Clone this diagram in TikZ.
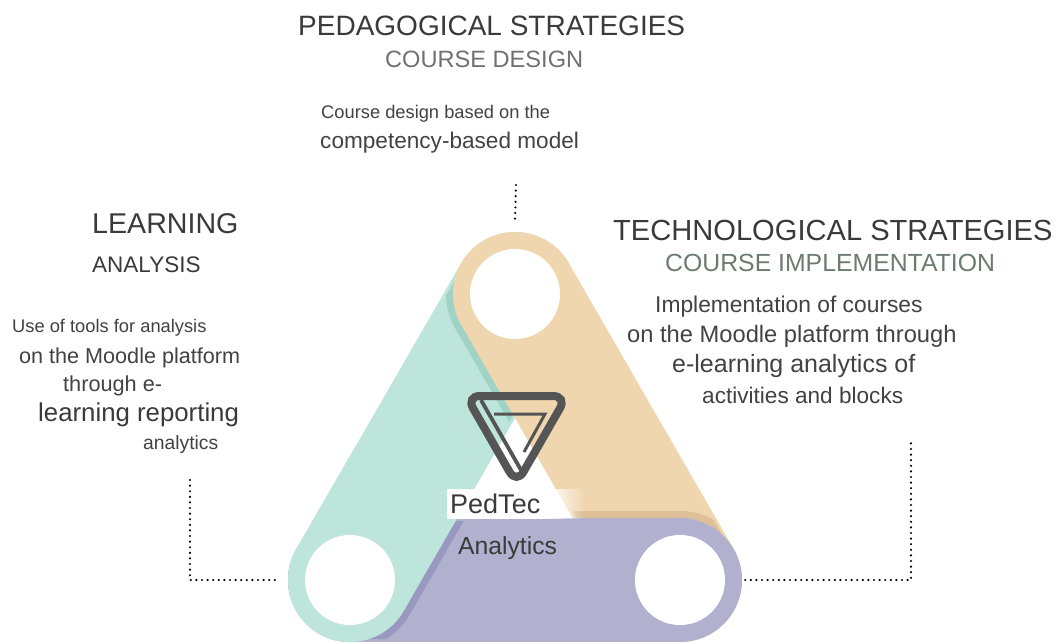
\documentclass[tikz,border=0pt]{standalone}
\usepackage{fontspec}
\setmainfont{Liberation Sans}
\usetikzlibrary{calc,positioning,fadings}
\usepackage{xcolor}

\definecolor{tealband}{RGB}{190,229,219}
\definecolor{tealshade}{RGB}{160,211,197}
\definecolor{peachband}{RGB}{240,214,174}
\definecolor{peachshade}{RGB}{221,192,152}
\definecolor{lilacband}{RGB}{177,177,207}
\definecolor{lilacshade}{RGB}{152,152,192}
\definecolor{logogray}{RGB}{85,85,85}
\definecolor{headgray}{RGB}{58,58,58}
\definecolor{subgray}{RGB}{112,112,112}
\definecolor{implgreen}{RGB}{108,124,110}
\definecolor{textgray}{RGB}{66,66,66}

\tikzfading[name=fadeout, left color=transparent!0, right color=transparent!100]

\newcommand{\fsz}[1]{\fontsize{#1}{#1}\selectfont}

\begin{document}
\begin{tikzpicture}[x=1pt, y=-1pt,
		band/.style = {line width=124pt, line cap=round},
		halo/.style = {line width=138pt, line cap=round},
		hole/.style = {circle, fill=white, minimum size=90pt, inner sep=0pt},
		dots/.style = {line width=2.4pt, line cap=round, dash pattern=on 0pt off 5.6pt},
		txt/.style = {anchor=base west, inner sep=0pt, text=textgray},
		leftside/.style = {shift={(350,580)}, rotate=60},
		rightside/.style = {shift={(515,294)}, rotate=-60},
		baseside/.style = {shift={(350,580)}}]
		\useasboundingbox (0,0) rectangle (1060,643);
		\fill[white] (0,0) rectangle (1060,643);
		\coordinate (pT) at (515,294);
		\coordinate (pL) at (350,580);
		\coordinate (pR) at (680,580);
		% bands, each one lying over the next
		\draw[band, tealband] (pL) -- (pT);
		\begin{scope}
			\clip[leftside, rounded corners=59pt] (-59,-59) rectangle (389,59);
			\draw[halo, tealshade] (pT) -- (pR);
		\end{scope}
		\draw[band, peachband] (pT) -- (pR);
		\begin{scope}
			\clip[rightside, rounded corners=59pt] (-59,-59) rectangle (389,59);
			\draw[halo, peachshade] (pL) -- (pR);
		\end{scope}
		\draw[band, lilacband] (pL) -- (pR);
		\begin{scope}
			\clip[baseside, rounded corners=59pt] (-59,-59) rectangle (389,59);
			\draw[halo, lilacshade] (pL) -- (pT);
		\end{scope}
		\begin{scope}
			\clip (200,445) rectangle (540,643);
			\draw[band, tealband] (pL) -- (pT);
		\end{scope}
		\node[hole] (top) at (pT) {};
		\node[hole] (left) at (pL) {};
		\node[hole] (right) at (pR) {};
		% logo
		\draw[logogray, line width=8pt, rounded corners=14pt] (466,396) -- (567,396) -- (516.5,484) -- cycle;
		\draw[logogray, line width=3.8pt] (481,400) -- (521,470);
		\draw[logogray, line width=3pt] (494,414) -- (545,414) -- (524,452);
		\fill[white] (447,489) rectangle (548,519);
		\fill[white, path fading=fadeout] (547,489) rectangle (584,519);
		\node[txt, text=headgray] (pedtec) at (450,513) {\fsz{27}PedTec};
		\node[txt, text=headgray] (analytics) at (458,554) {\fsz{24.7}Analytics};
		% texts
		\node[txt, text=headgray] (pedtitle) at (298,35) {\fsz{28}PEDAGOGICAL STRATEGIES};
		\node[txt, text=subgray] (pedsub) at (385,67) {\fsz{23.6}COURSE DESIGN};
		\node[txt] (peda) at (321,118) {\fsz{18.3}Course design based on the};
		\node[txt] (pedb) at (320,148) {\fsz{22.6}competency-based model};
		\node[txt, text=headgray] (learntitle) at (92,233) {\fsz{28.6}LEARNING};
		\node[txt, text=headgray] (learnsub) at (92,272) {\fsz{22.5}ANALYSIS};
		\node[txt] (learna) at (12,332) {\fsz{18.3}Use of tools for analysis};
		\node[txt] (learnb) at (19,363) {\fsz{21.6}on the Moodle platform};
		\node[txt] (learnc) at (63,391) {\fsz{21.7}through e-};
		\node[txt, text=headgray] (learnd) at (38,421) {\fsz{25.8}learning reporting};
		\node[txt] (learne) at (143,449) {\fsz{19.3}analytics};
		\node[txt, text=headgray] (techtitle) at (613,240) {\fsz{29.1}TECHNOLOGICAL STRATEGIES};
		\node[txt, text=implgreen] (techsub) at (665,271) {\fsz{24.8}COURSE IMPLEMENTATION};
		\node[txt] (techa) at (655,312) {\fsz{22.8}Implementation of courses};
		\node[txt] (techb) at (627,342) {\fsz{23.7}on the Moodle platform through};
		\node[txt] (techc) at (672,372) {\fsz{25}e-learning analytics of};
		\node[txt] (techd) at (702,403) {\fsz{22.6}activities and blocks};
		% dotted leaders
		\coordinate (dtop) at (516,185);
		\coordinate (dleft) at (190,480);
		\coordinate (dright) at (911,443);
		\draw[dots] (dtop) -- ($(top.north)+(0,-29)$);
		\draw[dots] (dleft) |- ($(left.west)+(-25,0)$);
		\draw[dots] ($(right.east)+(20,0)$) -| (dright);
	\end{tikzpicture}
\end{document}
